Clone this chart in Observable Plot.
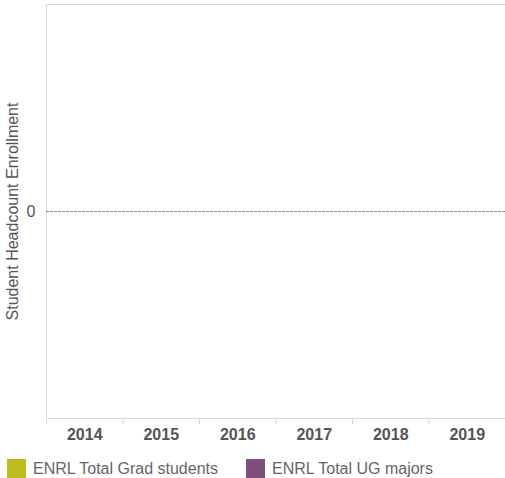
<!DOCTYPE html>
<html>
<head>
<meta charset="utf-8">
<script src="https://cdn.jsdelivr.net/npm/d3@7"></script>
<script src="https://cdn.jsdelivr.net/npm/@observablehq/plot@0.6"></script>
<style>
  html, body { margin: 0; padding: 0; background: #fff; }
  #chart { width: 505px; height: 478px; position: relative; font-family: "Liberation Sans", Arial, sans-serif; }
  .legend { position: absolute; top: 459px; left: 0; height: 19px; width: 505px; }
  .item { position: absolute; top: 0; display: flex; align-items: center; height: 19px; font-size: 16px; color: #666; white-space: nowrap; }
  .sw { width: 19px; height: 19px; margin-right: 7px; }
</style>
</head>
<body>
<div id="chart"></div>
<script>
// Data (the reference chart shows no bars: all values empty/zero)
const years = [2014, 2015, 2016, 2017, 2018, 2019];
const gradStudents = [0, 0, 0, 0, 0, 0];
const ugMajors = [0, 0, 0, 0, 0, 0];
const seriesNames = ["ENRL Total Grad students", "ENRL Total UG majors"];
const seriesColors = ["#BDBB1F", "#7E4F7C"];
const yTicks = [0];
const yLabel = "Student Headcount Enrollment";

const rows = [];
years.forEach((y, i) => {
  rows.push({year: y, series: seriesNames[0], value: gradStudents[i]});
  rows.push({year: y, series: seriesNames[1], value: ugMajors[i]});
});
const boundaries = [years[0] - 0.5, ...years.map(y => y + 0.5)];
const yDomain = [-1, 1];

const plot = Plot.plot({
  width: 505,
  height: 446,
  marginLeft: 46,
  marginRight: 0,
  marginTop: 4,
  marginBottom: 28,
  style: {fontFamily: "'Liberation Sans', Arial, sans-serif", fontSize: "16px", color: "#555", background: "#fff"},
  x: {type: "linear", domain: [boundaries[0], boundaries[boundaries.length - 1]]},
  y: {domain: yDomain},
  color: {domain: seriesNames, range: seriesColors},
  marks: [
    Plot.rectY(rows, Plot.stackY({x1: d => d.year - 0.5, x2: d => d.year + 0.5, y: "value", fill: "series", insetLeft: 8, insetRight: 8})),
    Plot.ruleY([yDomain[1]], {stroke: "#d8d8d8"}),
    Plot.ruleY([yDomain[0]], {stroke: "#d8d8d8"}),
    Plot.ruleX([boundaries[0]], {stroke: "#d8d8d8"}),
    Plot.ruleY([0], {stroke: "#8a8a8a", strokeDasharray: "3,1"}),
    Plot.axisX({ticks: boundaries, tickSize: 6, tickFormat: () => "", stroke: "#d8d8d8", label: null}),
    Plot.axisX({ticks: years, tickSize: 0, tickPadding: 10, tickFormat: d => String(d), fontWeight: "bold", fill: "#555", fontSize: 16, label: null}),
    Plot.axisY({ticks: yTicks, tickSize: 0, tickPadding: 11, tickFormat: d => String(d), fontSize: 16, fill: "#555", label: yLabel, labelAnchor: "center", labelArrow: "none", labelOffset: 40})
  ]
});
const chart = document.getElementById("chart");
chart.appendChild(plot);

const legend = document.createElement("div");
legend.className = "legend";
const lefts = [7, 246];
seriesNames.forEach((name, i) => {
  const item = document.createElement("div");
  item.className = "item";
  item.style.left = lefts[i] + "px";
  const sw = document.createElement("span");
  sw.className = "sw";
  sw.style.background = seriesColors[i];
  const t = document.createElement("span");
  t.textContent = name;
  item.appendChild(sw);
  item.appendChild(t);
  legend.appendChild(item);
});
chart.appendChild(legend);
</script>
</body>
</html>
